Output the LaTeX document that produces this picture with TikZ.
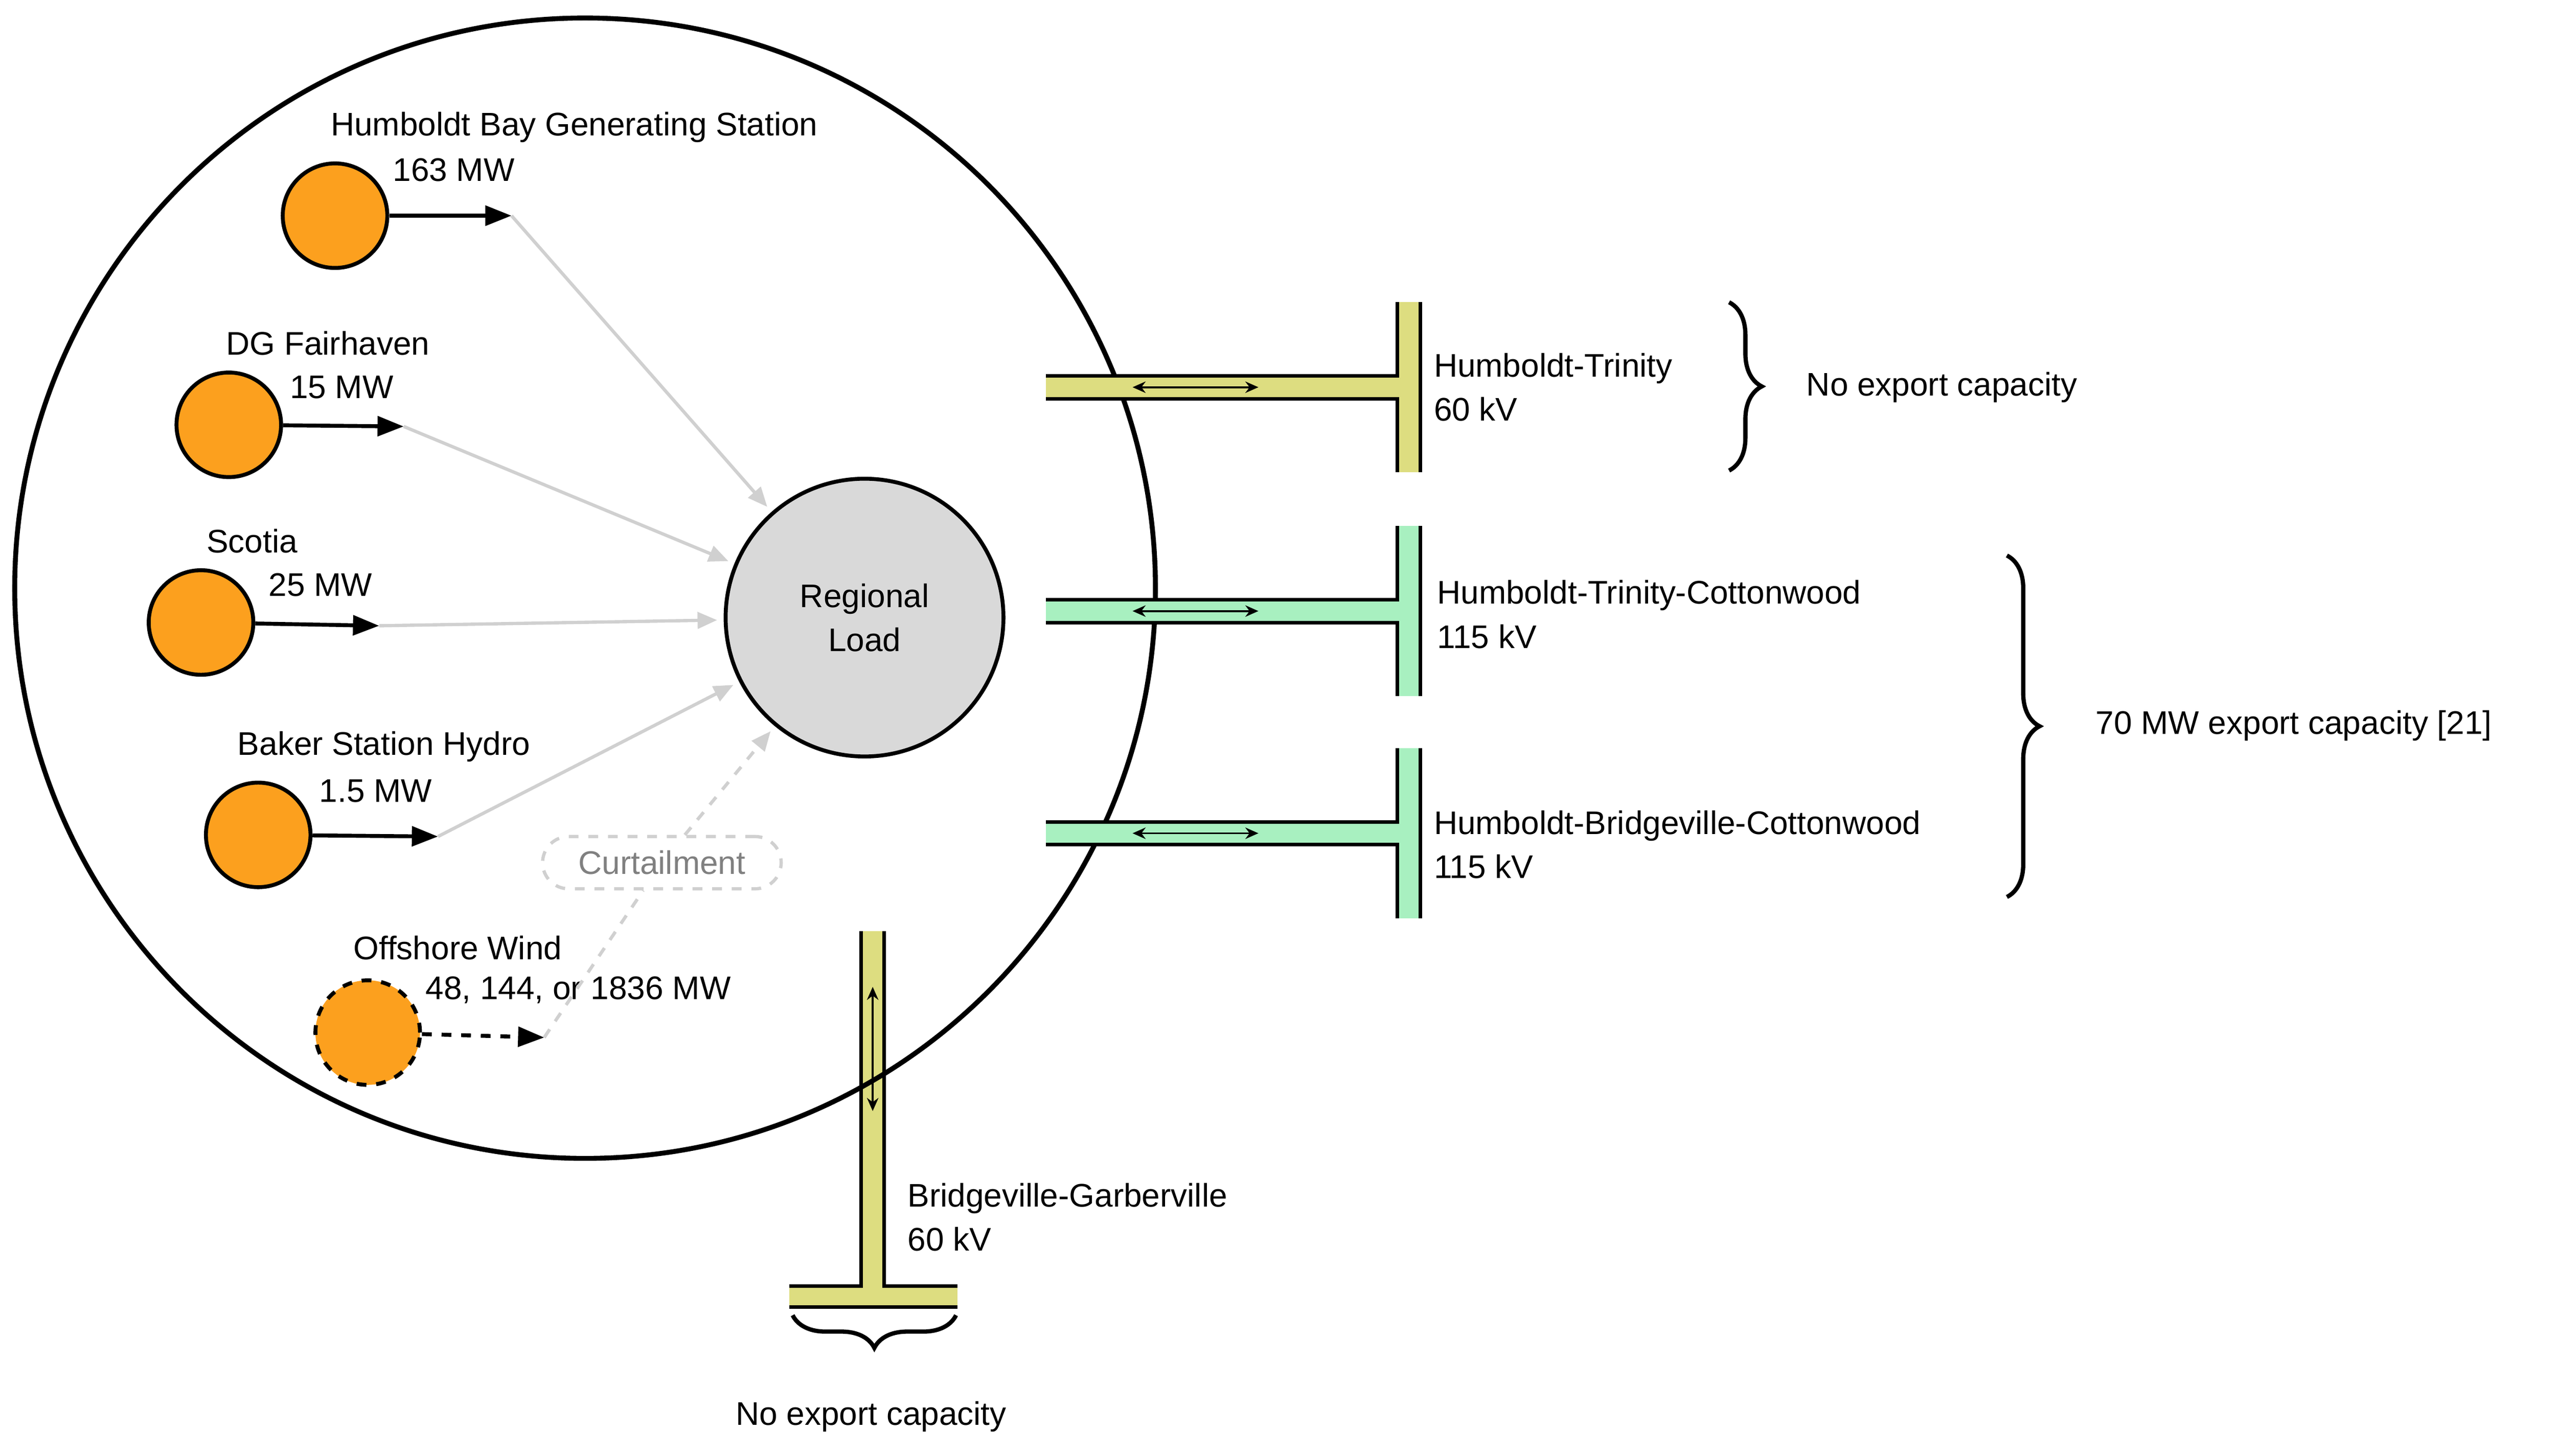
\documentclass[tikz,border=0pt]{standalone}
\usepackage{fontspec}
\setmainfont{Liberation Sans}
\usetikzlibrary{arrows.meta,decorations.pathreplacing,shapes.misc}
\definecolor{gen}{RGB}{252,160,30}
\definecolor{ld}{RGB}{217,217,217}
\definecolor{yel}{RGB}{221,221,128}
\definecolor{mint}{RGB}{168,240,192}
\definecolor{gr}{RGB}{208,208,208}
\begin{document}
\begin{tikzpicture}[x=0.5pt,y=-0.5pt,
  every node/.style={font=\fontsize{10}{13.5}\selectfont},
  gen/.style={circle,draw,line width=1.2pt,fill=gen,minimum size=32pt,inner sep=0},
  lbl/.style={anchor=west,inner sep=0,align=left},
  blk/.style={line width=1.2pt,-{Triangle[length=8pt,width=6pt]}},
  gry/.style={draw=gr,line width=1pt,-{Triangle[length=6pt,width=5pt]},shorten >=2pt},
  dbl/.style={line width=0.6pt,{Stealth[length=4pt,width=3.5pt]}-{Stealth[length=4pt,width=3.5pt]}},
  edge/.style={line width=1.1pt},
  brc/.style={line width=1.3pt,decorate,decoration={brace,amplitude=10pt}}]
\useasboundingbox (0,0) rectangle (1564,891);
% bottom line (under circle)
\fill[yel] (527,570) rectangle (541,787);
\fill[yel] (483,787) rectangle (586,800);
\draw[edge] (527,570) -- (527,787) -- (483,787);
\draw[edge] (541,570) -- (541,787) -- (586,787);
\draw[edge] (483,800) -- (586,800);
\coordinate (bu) at (534,604); \coordinate (bd) at (534,680);
\draw[dbl] (bu) -- (bd);
% big circle
\node[circle,draw,line width=1.5pt,minimum size=349pt,inner sep=0] (region) at (358,360) {};
% right lines
\foreach \yc/\col/\nm in {237/yel/ht,374/mint/htc,510/mint/hbc}{
  \fill[\col] (640,\yc-7) rectangle (855,\yc+7);
  \fill[\col] (855,\yc-52) rectangle (869,\yc+52);
  \draw[edge] (640,\yc-7) -- (855,\yc-7) -- (855,\yc-52);
  \draw[edge] (640,\yc+7) -- (855,\yc+7) -- (855,\yc+52);
  \draw[edge] (869,\yc-52) -- (869,\yc+52);
  \coordinate (\nm l) at (693,\yc); \coordinate (\nm r) at (770,\yc);
  \draw[dbl] (\nm l) -- (\nm r);
}
\node[lbl] (tht) at (877,237) {Humboldt-Trinity\\60 kV};
\node[lbl] (thtc) at (879,376) {Humboldt-Trinity-Cottonwood\\115 kV};
\node[lbl] (thbc) at (877,517) {Humboldt-Bridgeville-Cottonwood\\115 kV};
\node[lbl] (tbg) at (555,745) {Bridgeville-Garberville\\60 kV};
% braces
\draw[brc] (1058,185) -- (1058,288);
\node[lbl] (ne1) at (1105,237) {No export capacity};
\draw[brc] (1228,340) -- (1228,549);
\node[lbl] (ex70) at (1282,444) {70 MW export capacity [21]};
\draw[brc] (585,805) -- (485,805);
\node (ne2) at (533,867) {No export capacity};
% load
\node[circle,draw,line width=1.2pt,fill=ld,minimum size=85pt,inner sep=0,align=center] (load) at (529,378) {Regional\\Load};
% generators
\node[gen] (g1) at (205,132) {};
\node[gen] (g2) at (140,260) {};
\node[gen] (g3) at (123,381) {};
\node[gen] (g4) at (158,511) {};
\node[gen,dashed] (g5) at (225,632) {};
\coordinate (a1) at (313,132);
\coordinate (a2) at (247,261);
\coordinate (a3) at (232,383);
\coordinate (a4) at (268,512);
\coordinate (a5) at (333,635);
\draw[blk] (g1) -- (a1);
\draw[blk] (g2) -- (a2);
\draw[blk] (g3) -- (a3);
\draw[blk] (g4) -- (a4);
\draw[blk,dashed] (g5) -- (a5);
\node[lbl] at (202,78) {Humboldt Bay Generating Station};
\node[lbl] at (240,104) {163 MW};
\node[lbl] at (138,210) {DG Fairhaven};
\node[lbl] at (177,237) {15 MW};
\node[lbl] at (126,331) {Scotia};
\node[lbl] at (164,358) {25 MW};
\node[lbl] at (145,457) {Baker Station Hydro};
\node[lbl] at (195,484) {1.5 MW};
\node[lbl] at (216,580) {Offshore Wind};
\node[lbl] at (260,606) {48, 144, or 1836 MW};
% gray flows
\draw[gry] (a1) -- (load);
\draw[gry] (a2) -- (load);
\draw[gry] (a3) -- (load);
\draw[gry] (a4) -- (load);
\node[draw=gr,dashed,line width=1pt,rounded corners=8pt,fill=white,text=gray,minimum width=73pt,minimum height=16pt] (curt) at (405,528) {Curtailment};
\draw[draw=gr,dashed,line width=1pt] (a5) -- (curt);
\draw[gry,dashed] (curt) -- (load);
\end{tikzpicture}
\end{document}
